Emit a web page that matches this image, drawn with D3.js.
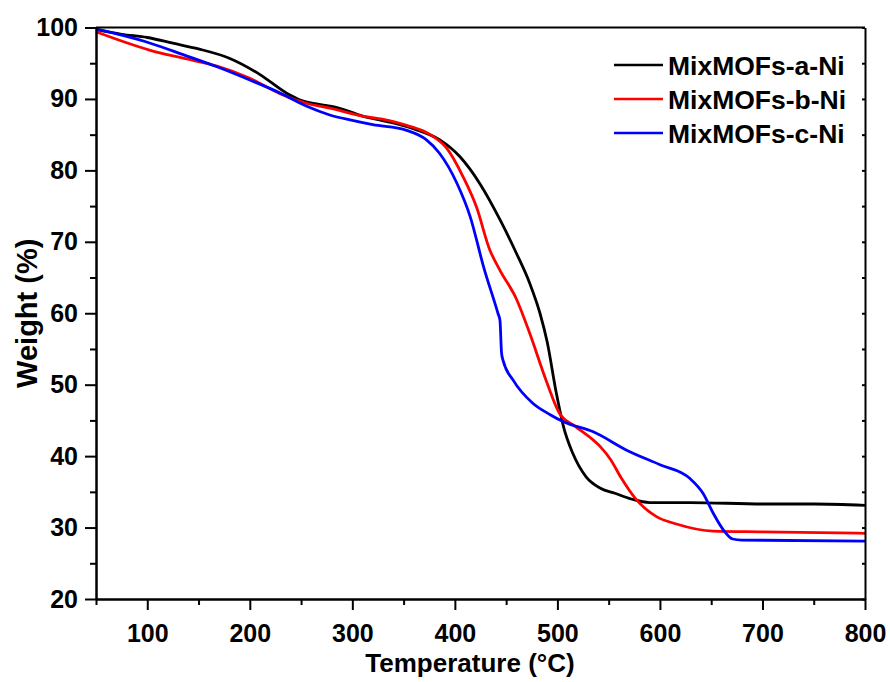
<!DOCTYPE html>
<html>
<head>
<meta charset="utf-8">
<script src="https://cdn.jsdelivr.net/npm/d3@7"></script>
<style>
  body { margin: 0; background: #fff; }
  text { font-family: "Liberation Sans", Arial, sans-serif; font-weight: bold; }
</style>
</head>
<body>
<script>
// TGA curves, [temperature (°C), weight (%)]
var seriesNames = ["MixMOFs-a-Ni", "MixMOFs-b-Ni", "MixMOFs-c-Ni"];
var seriesColors = ["#000000", "#ff0000", "#0000ff"];

var curveA = [
  [50, 99.7], [75, 99.05], [100, 98.6], [125, 97.8], [150, 97.0], [180, 95.7],
  [210, 93.4], [236, 90.8], [250, 89.8], [265, 89.3], [278, 89.0], [285, 88.8],
  [310, 87.6], [335, 86.8], [360, 85.8], [385, 84.3], [405, 81.9], [425, 78.0],
  [444, 73.1], [460, 68.4], [473, 64.2], [483, 60.0], [490, 56.0], [499, 48.8],
  [506, 44.1], [515, 40.4], [528, 37.1], [542, 35.5], [556, 34.8], [572, 34.0],
  [590, 33.5], [630, 33.5], [700, 33.3], [750, 33.3], [800, 33.1]
];
var curveB = [
  [50, 99.4], [77, 98.0], [103, 96.8], [135, 95.7], [168, 94.6], [200, 92.9],
  [230, 90.7], [255, 89.4], [278, 88.7], [310, 87.6], [335, 87.0], [353, 86.3],
  [376, 85.0], [392, 83.1], [408, 79.1], [421, 74.9], [434, 68.9], [444, 66.0],
  [460, 62.0], [473, 57.2], [489, 50.6], [502, 46.0], [518, 44.1], [532, 42.6],
  [542, 41.3], [552, 39.5], [562, 37.0], [577, 33.9], [597, 31.5], [616, 30.5],
  [652, 29.5], [700, 29.4], [800, 29.2]
];
var curveC = [
  [50, 99.8], [77, 98.85], [103, 97.8], [135, 96.2], [168, 94.5], [200, 92.65],
  [230, 90.8], [255, 89.0], [278, 87.75], [300, 87.0], [320, 86.4], [353, 85.6],
  [372, 84.3], [385, 82.4], [402, 78.2], [415, 73.5], [428, 66.5], [442, 60.0],
  [444, 59.0], [445.5, 54.5], [447, 53.4], [457, 50.6], [476, 47.4], [493, 45.8],
  [506, 44.8], [535, 43.4], [568, 40.8], [600, 38.8], [629, 36.9], [642, 34.8],
  [652, 32.0], [662, 29.65], [671, 28.4], [680, 28.25], [800, 28.1]
];
var allCurves = [curveA, curveB, curveC];

var xMajor = [100, 200, 300, 400, 500, 600, 700, 800];
var xMinor = [50, 150, 250, 350, 450, 550, 650, 750];
var yMajor = [20, 30, 40, 50, 60, 70, 80, 90, 100];
var yMinor = [25, 35, 45, 55, 65, 75, 85, 95];

var W = 890, H = 682;
var margin = {top: 27.5, right: 25, bottom: 83, left: 96};
var width = W - margin.left - margin.right;
var height = H - margin.top - margin.bottom;

var svg = d3.select("body").append("svg")
  .attr("width", W)
  .attr("height", H);

var g = svg.append("g")
  .attr("transform", "translate(" + margin.left + "," + margin.top + ")");

var x = d3.scaleLinear().domain([50, 800]).range([0, width]);
var y = d3.scaleLinear().domain([20, 100]).range([height, 0]);

// curves
var line = d3.line()
  .x(function(d) { return x(d[0]); })
  .y(function(d) { return y(d[1]); })
  .curve(d3.curveMonotoneX);

g.selectAll("path.curve")
  .data(allCurves)
  .enter().append("path")
  .attr("class", "curve")
  .attr("fill", "none")
  .attr("stroke", function(d, i) { return seriesColors[i]; })
  .attr("stroke-width", 2.8)
  .attr("stroke-linejoin", "round")
  .attr("d", line);

// axes
function styleAxis(sel) {
  sel.select(".domain").attr("stroke-width", 2);
  sel.selectAll(".tick line").attr("stroke-width", 2);
  sel.selectAll("text").attr("font-size", 25).attr("fill", "#000")
    .attr("font-family", "Liberation Sans, Arial, sans-serif").attr("font-weight", "bold");
}

g.append("g")
  .attr("transform", "translate(0," + height + ")")
  .call(d3.axisBottom(x).tickValues(xMajor).tickSize(11).tickPadding(14).tickSizeOuter(0))
  .call(styleAxis);
g.append("g")
  .attr("transform", "translate(0," + height + ")")
  .call(d3.axisBottom(x).tickValues(xMinor).tickSize(6).tickFormat("").tickSizeOuter(0))
  .call(styleAxis);

g.append("g")
  .call(d3.axisLeft(y).tickValues(yMajor).tickSize(11).tickPadding(7).tickSizeOuter(0))
  .call(styleAxis);
g.append("g")
  .call(d3.axisLeft(y).tickValues(yMinor).tickSize(6).tickFormat("").tickSizeOuter(0))
  .call(styleAxis);

// right axis, ticks inward
g.append("g")
  .attr("transform", "translate(" + width + ",0)")
  .call(d3.axisLeft(y).tickValues(yMajor.concat(yMinor)).tickSize(3).tickFormat("").tickSizeOuter(0))
  .call(styleAxis);

// top border
g.append("line")
  .attr("x1", 0).attr("x2", width)
  .attr("y1", 0).attr("y2", 0)
  .attr("stroke", "#000").attr("stroke-width", 2);

// axis titles
svg.append("text")
  .attr("x", 470).attr("y", 672)
  .attr("text-anchor", "middle")
  .attr("font-size", 26)
  .text("Temperature (°C)");

svg.append("text")
  .attr("transform", "translate(37," + (margin.top + height / 2) + ") rotate(-90)")
  .attr("text-anchor", "middle")
  .attr("font-size", 29)
  .text("Weight (%)");

// legend
var legend = svg.append("g").attr("transform", "translate(614,65)");
var item = legend.selectAll("g.item")
  .data(seriesNames)
  .enter().append("g")
  .attr("class", "item")
  .attr("transform", function(d, i) { return "translate(0," + (i * 34) + ")"; });
item.append("line")
  .attr("x1", 0).attr("x2", 49)
  .attr("stroke", function(d, i) { return seriesColors[i]; })
  .attr("stroke-width", 2.5);
item.append("text")
  .attr("x", 54).attr("dy", "0.36em")
  .attr("font-size", 26.5)
  .text(function(d) { return d; });
</script>
</body>
</html>
